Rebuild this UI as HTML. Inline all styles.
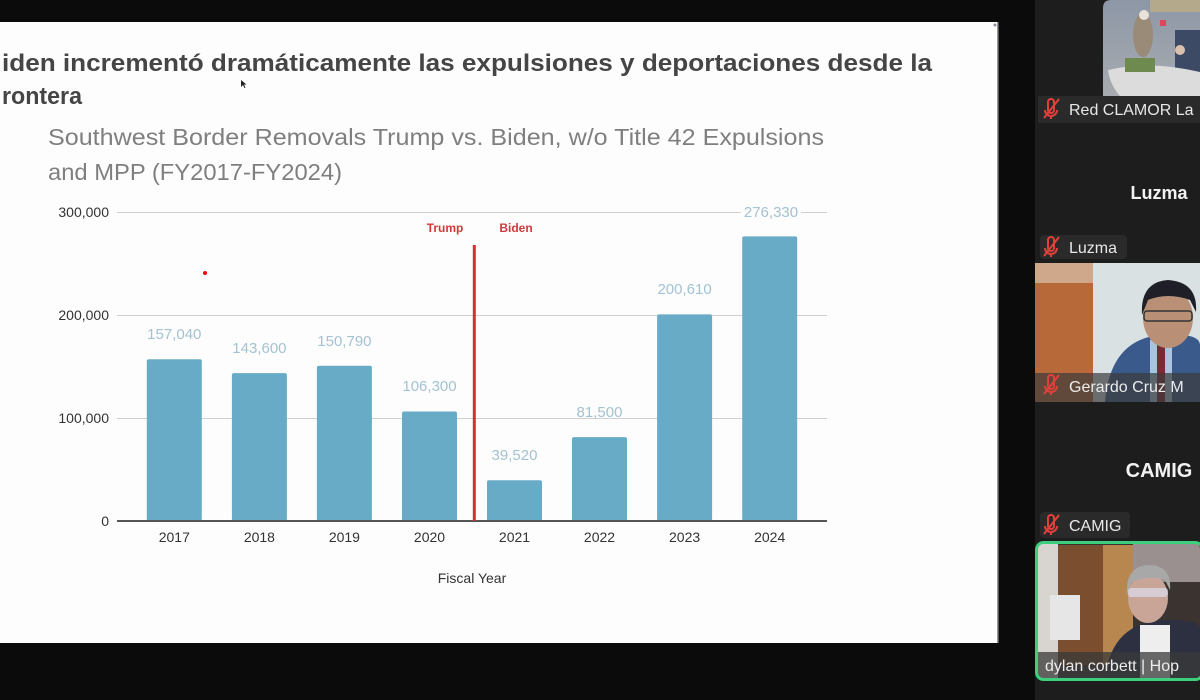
<!DOCTYPE html>
<html><head><meta charset="utf-8"><style>
html,body{margin:0;padding:0;background:#0b0b0b;}
svg{display:block;}
</style></head><body>
<svg width="1200" height="700" viewBox="0 0 1200 700" xmlns="http://www.w3.org/2000/svg" font-family="Liberation Sans, sans-serif">
<rect x="0" y="0" width="1200" height="700" fill="#0b0b0b"/>
<!-- slide -->
<rect x="0" y="22" width="998" height="621" fill="#fdfdfd"/>
<rect x="997" y="22" width="1.5" height="621" fill="#9a9a9a"/>
<circle cx="995" cy="25" r="1.5" fill="#8a8a9a"/>
<!-- title -->
<text x="2" y="71" font-size="24" font-weight="bold" fill="#454545" textLength="930" lengthAdjust="spacingAndGlyphs">iden incrementó dramáticamente las expulsiones y deportaciones desde la</text>
<text x="2" y="104" font-size="24" font-weight="bold" fill="#454545" textLength="80" lengthAdjust="spacingAndGlyphs">rontera</text>
<path d="M241 80 l0 7 l2 -2 l1.5 3 l1 -0.5 l-1.5 -3 l2.5 0 z" fill="#222"/>
<!-- subtitle -->
<text x="48" y="145" font-size="23" fill="#7f7f7f" textLength="776" lengthAdjust="spacingAndGlyphs">Southwest Border Removals Trump vs. Biden, w/o Title 42 Expulsions</text>
<text x="48" y="180" font-size="23" fill="#7f7f7f" textLength="294" lengthAdjust="spacingAndGlyphs">and MPP (FY2017-FY2024)</text>
<!-- gridlines -->
<g stroke="#d0d0d0" stroke-width="1">
<line x1="117" y1="212.5" x2="827" y2="212.5"/>
<line x1="117" y1="315.5" x2="827" y2="315.5"/>
<line x1="117" y1="418.5" x2="827" y2="418.5"/>
</g>
<!-- y labels -->
<g font-size="14" fill="#333" text-anchor="end">
<text x="109" y="217">300,000</text>
<text x="109" y="320">200,000</text>
<text x="109" y="423">100,000</text>
<text x="109" y="526">0</text>
</g>
<!-- bars -->
<g fill="#68abc6">
<rect x="146.8" y="359.3" width="55" height="161.7" rx="2"/>
<rect x="231.9" y="373.1" width="55" height="147.9" rx="2"/>
<rect x="316.9" y="365.7" width="55" height="155.3" rx="2"/>
<rect x="402" y="411.5" width="55" height="109.5" rx="2"/>
<rect x="487" y="480.3" width="55" height="40.7" rx="2"/>
<rect x="572" y="437.1" width="55" height="83.9" rx="2"/>
<rect x="657.1" y="314.4" width="55" height="206.6" rx="2"/>
<rect x="742.2" y="236.4" width="55" height="284.6" rx="2"/>
</g>
<!-- axis -->
<line x1="117" y1="521" x2="827" y2="521" stroke="#555" stroke-width="2"/>
<!-- value labels -->
<rect x="741" y="203" width="60" height="18" fill="#fdfdfd"/>
<g font-size="15" fill="#a3c2d2" text-anchor="middle">
<text x="174.3" y="339">157,040</text>
<text x="259.4" y="353">143,600</text>
<text x="344.4" y="346">150,790</text>
<text x="429.5" y="391">106,300</text>
<text x="514.5" y="460">39,520</text>
<text x="599.5" y="417">81,500</text>
<text x="684.6" y="294">200,610</text>
<text x="771" y="217">276,330</text>
</g>
<!-- x labels -->
<g font-size="14" fill="#333" text-anchor="middle">
<text x="174.3" y="542">2017</text>
<text x="259.4" y="542">2018</text>
<text x="344.4" y="542">2019</text>
<text x="429.5" y="542">2020</text>
<text x="514.5" y="542">2021</text>
<text x="599.5" y="542">2022</text>
<text x="684.6" y="542">2023</text>
<text x="769.7" y="542">2024</text>
</g>
<text x="472" y="583" font-size="14" fill="#333" text-anchor="middle">Fiscal Year</text>
<!-- divider -->
<rect x="472.8" y="245" width="3" height="276" fill="#d3302f"/>
<text x="445" y="232" font-size="12" font-weight="bold" fill="#d03a3a" text-anchor="middle">Trump</text>
<text x="516" y="232" font-size="12" font-weight="bold" fill="#d03a3a" text-anchor="middle">Biden</text>
<circle cx="205" cy="273" r="2" fill="#e01010"/>

<!-- sidebar -->
<rect x="1035" y="0" width="165" height="700" fill="#1d1d1d"/>
<!-- tile 1 video -->
<defs>
<clipPath id="c1"><path d="M1111 0 H1200 V96 H1103 V8 Q1103 0 1111 0 Z"/></clipPath>
<clipPath id="c3"><rect x="1035" y="263" width="165" height="139"/></clipPath>
<clipPath id="c5"><rect x="1036" y="542" width="164" height="138" rx="7"/></clipPath>
<linearGradient id="g1" x1="0" y1="0" x2="0" y2="1"><stop offset="0" stop-color="#8d97a6"/><stop offset="1" stop-color="#a8acb0"/></linearGradient>
</defs>
<g clip-path="url(#c1)">
<rect x="1103" y="0" width="97" height="96" fill="url(#g1)"/>
<rect x="1150" y="0" width="50" height="12" fill="#b4a98a"/>
<ellipse cx="1143" cy="35" rx="10" ry="22" fill="#9a8a78"/>
<circle cx="1144" cy="15" r="5" fill="#e8e2d8"/>
<rect x="1160" y="20" width="6" height="6" fill="#d84a5a"/>
<rect x="1175" y="30" width="25" height="45" fill="#3d4a66"/>
<circle cx="1180" cy="50" r="5" fill="#d9c1ad"/>
<path d="M1108 70 Q1150 60 1200 72 V96 H1120 Q1110 85 1108 70 Z" fill="#dcdcdc"/>
<rect x="1125" y="58" width="30" height="14" fill="#6f8a4e"/>
</g>
<rect x="1038" y="96" width="162" height="27" fill="#2a2a2a"/>
<g stroke="#e2413a" stroke-width="2" fill="none">
<path d="M1048 102 v8 a3 3 0 0 0 6 0 v-8 a3 3 0 0 0 -6 0 z M1045 110 a6 6 0 0 0 12 0 M1051 116 v3"/>
<line x1="1044" y1="118" x2="1059" y2="99"/>
</g>
<text x="1069" y="115" font-size="16" fill="#e8e8e8">Red CLAMOR La</text>
<text x="1159" y="199" font-size="18" font-weight="bold" fill="#f2f2f2" text-anchor="middle">Luzma</text>
<rect x="1040" y="235" width="87" height="24" rx="4" fill="#2a2a2a"/>
<g stroke="#e2413a" stroke-width="2" fill="none">
<path d="M1048 240 v8 a3 3 0 0 0 6 0 v-8 a3 3 0 0 0 -6 0 z M1045 248 a6 6 0 0 0 12 0 M1051 254 v3"/>
<line x1="1044" y1="256" x2="1059" y2="237"/>
</g>
<text x="1069" y="253" font-size="16" fill="#e8e8e8">Luzma</text>
<!-- tile 3 -->
<g clip-path="url(#c3)">
<rect x="1035" y="263" width="165" height="139" fill="#d9e1e3"/>
<rect x="1035" y="263" width="58" height="139" fill="#b8693a"/>
<rect x="1035" y="263" width="58" height="20" fill="#cfa78a"/>
<path d="M1105 402 Q1110 340 1160 335 Q1200 332 1200 345 V402 Z" fill="#3a5a8c"/>
<rect x="1150" y="340" width="22" height="62" fill="#a9c4dc"/>
<rect x="1157" y="345" width="8" height="57" fill="#7a2a35"/>
<ellipse cx="1168" cy="318" rx="25" ry="30" fill="#b98f76"/>
<path d="M1142 315 Q1140 282 1168 280 Q1198 282 1196 312 L1190 300 Q1168 292 1148 300 Z" fill="#1e1f27"/>
<rect x="1144" y="311" width="48" height="10" rx="3" fill="none" stroke="#333" stroke-width="1.5"/>
<rect x="1035" y="373" width="165" height="29" fill="#3a3a3a" opacity="0.7"/>
</g>
<g stroke="#e2413a" stroke-width="2" fill="none">
<path d="M1048 378 v8 a3 3 0 0 0 6 0 v-8 a3 3 0 0 0 -6 0 z M1045 386 a6 6 0 0 0 12 0 M1051 392 v3"/>
<line x1="1044" y1="394" x2="1059" y2="375"/>
</g>
<text x="1069" y="392" font-size="16" fill="#ececec">Gerardo Cruz M</text>
<text x="1159" y="477" font-size="20" font-weight="bold" fill="#f2f2f2" text-anchor="middle">CAMIG</text>
<rect x="1040" y="512" width="90" height="26" rx="4" fill="#2a2a2a"/>
<g stroke="#e2413a" stroke-width="2" fill="none">
<path d="M1048 518 v8 a3 3 0 0 0 6 0 v-8 a3 3 0 0 0 -6 0 z M1045 526 a6 6 0 0 0 12 0 M1051 532 v3"/>
<line x1="1044" y1="534" x2="1059" y2="515"/>
</g>
<text x="1069" y="531" font-size="16" fill="#e8e8e8">CAMIG</text>
<!-- tile 5 -->
<g clip-path="url(#c5)">
<rect x="1036" y="542" width="164" height="138" fill="#3a3330"/>
<rect x="1036" y="542" width="22" height="138" fill="#d8d4d0"/>
<rect x="1058" y="545" width="45" height="120" fill="#7a4e2e"/>
<rect x="1103" y="545" width="30" height="120" fill="#b8864f"/>
<rect x="1050" y="595" width="30" height="45" fill="#e6e6e6"/>
<rect x="1133" y="542" width="67" height="40" fill="#9a9090"/>
<path d="M1105 680 Q1110 625 1160 620 Q1200 618 1200 630 V680 Z" fill="#2c3040"/>
<rect x="1140" y="625" width="30" height="55" fill="#eeeeee"/>
<ellipse cx="1148" cy="598" rx="20" ry="25" fill="#c9a598"/>
<path d="M1127 595 Q1125 565 1150 565 Q1172 566 1170 590 L1165 580 Q1148 575 1132 582 Z" fill="#a8a8a8"/>
<rect x="1128" y="588" width="40" height="9" rx="3" fill="#dde" opacity="0.7"/>
<rect x="1036" y="652" width="164" height="28" fill="#3a3a3a" opacity="0.75"/>
</g>
<rect x="1036.5" y="542.5" width="166" height="137" rx="7" fill="none" stroke="#3ccf7c" stroke-width="3"/>
<text x="1045" y="671" font-size="16" fill="#ececec">dylan corbett | Hop</text>
</svg>
</body></html>
